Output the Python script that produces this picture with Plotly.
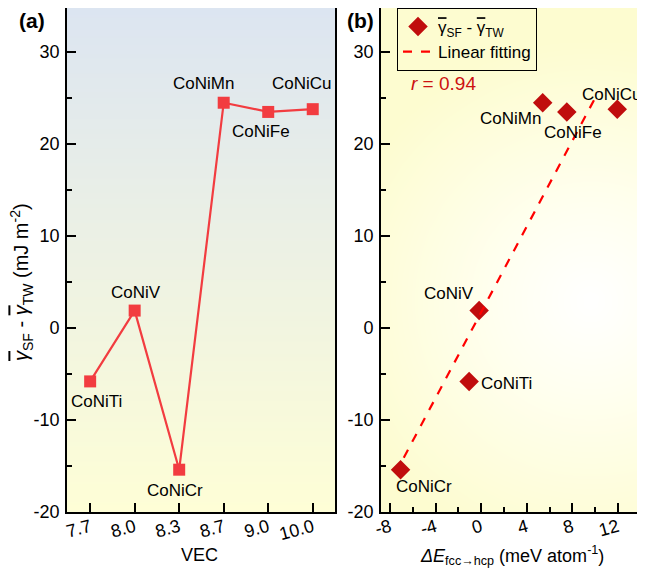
import numpy as np
import plotly.graph_objects as go

# ---------------- data ----------------
alloys = ["CoNiTi", "CoNiV", "CoNiCr", "CoNiMn", "CoNiFe", "CoNiCu"]
vec_labels = ["7.7", "8.0", "8.3", "8.7", "9.0", "10.0"]
gamma_diff = [-5.8, 1.9, -15.4, 24.5, 23.5, 23.8]          # mJ m^-2
delta_e = [-1.06, -0.18, -7.08, 5.4, 7.52, 11.95]          # meV atom^-1
fit_x = [-6.8, 10.3]
fit_y = [-14.1, 25.7]
r_value = "0.94"
y_ticks = [-20, -10, 0, 10, 20, 30]
y_tick_labels = ["-20", "-10", "0", "10", "20", "30"]
xb_ticks = [-8, -4, 0, 4, 8, 12]
xb_tick_labels = ["-8", "-4", "0", "4", "8", "12"]

# label pixel offsets (style)
shift_a = {"CoNiTi": (6, -20), "CoNiV": (1, 18), "CoNiCr": (-4, -21),
           "CoNiMn": (-20, 19), "CoNiFe": (-7, -20), "CoNiCu": (-11, 26)}
shift_b = {"CoNiTi": (37, -2), "CoNiV": (-30, 17), "CoNiCr": (23, -17),
           "CoNiMn": (-32, -16), "CoNiFe": (6, -21), "CoNiCu": (-5, 15)}

FONT = "Arial, Liberation Sans, sans-serif"
OFF = 8                      # page body margin
W, H = 645 - OFF, 583 - OFF


def px(sx):
    return min(1.0, max(0.0, (sx - OFF) / W))


def py(sy):
    return min(1.0, max(0.0, 1 - (sy - OFF) / H))


xa_dom = [px(67), px(335)]
xb_dom = [px(381), px(644)]
y_dom = [py(512), py(8)]
YR = [-20, 34.8]
XAR = [-0.52, 5.5]
XBR = [-8.8, 14.3]

fig = go.Figure()

# background gradient panel (a): vertical blue -> yellow
fig.add_trace(go.Heatmap(
    x=[-1, 6], y=[-20, 34.9], z=[[0, 0], [1, 1]],
    colorscale=[[0, "#fefed6"], [1, "#dce5f1"]], zsmooth="best",
    showscale=False, hoverinfo="skip", xaxis="x", yaxis="y"))

# background gradient panel (b): radial white -> yellow
gx = np.linspace(XBR[0], XBR[1], 50)
gy = np.linspace(YR[0], YR[1], 50)
cx, cy = 9.6, 3.0
GX, GY = np.meshgrid(gx, gy)
dist = np.sqrt(((GX - cx) * 11.35) ** 2 + ((GY - cy) * 9.2) ** 2) / 260.0
dist = np.clip(dist, 0, 1)
fig.add_trace(go.Heatmap(
    x=gx, y=gy, z=dist,
    colorscale=[[0, "#ffffff"], [0.35, "#fffff0"], [1, "#fdfcd0"]], zsmooth="best",
    zmin=0, zmax=1, showscale=False, hoverinfo="skip", xaxis="x2", yaxis="y2"))

# panel (a) line + squares
fig.add_trace(go.Scatter(
    x=list(range(len(alloys))), y=gamma_diff, mode="lines+markers",
    line=dict(color="#f23c40", width=2.2),
    marker=dict(symbol="square", size=12, color="#f23c40"),
    showlegend=False, xaxis="x", yaxis="y"))

OVG = '<span style="text-decoration:overline">γ</span>'

# panel (b) fit + diamonds
fig.add_trace(go.Scatter(
    x=delta_e, y=gamma_diff, mode="markers",
    marker=dict(symbol="diamond", size=15, color="#c00d0d"),
    name=OVG + "<sub>SF</sub> - " + OVG + "<sub>TW</sub>",
    xaxis="x2", yaxis="y2"))
fig.add_trace(go.Scatter(
    x=fit_x, y=fit_y, mode="lines",
    line=dict(color="#ff0000", width=2.2, dash="dash"),
    name="Linear fitting", xaxis="x2", yaxis="y2"))

annotations = []
for name, xv, yv in zip(alloys, range(len(alloys)), gamma_diff):
    dx, dy = shift_a[name]
    annotations.append(dict(x=xv, y=yv, xref="x", yref="y", text=name,
                            showarrow=False, xshift=dx, yshift=dy,
                            xanchor="center", yanchor="middle",
                            font=dict(size=17, color="black", family=FONT)))
for name, xv, yv in zip(alloys, delta_e, gamma_diff):
    dx, dy = shift_b[name]
    annotations.append(dict(x=xv, y=yv, xref="x2", yref="y2", text=name,
                            showarrow=False, xshift=dx, yshift=dy,
                            xanchor="center", yanchor="middle",
                            font=dict(size=17, color="black", family=FONT)))


def paper_text(sx, sy, text, size, color="black", angle=0):
    return dict(x=px(sx), y=py(sy), xref="paper", yref="paper", text=text,
                showarrow=False, xanchor="center", yanchor="middle", textangle=angle,
                font=dict(size=size, color=color, family=FONT))


OVGI = '<span style="text-decoration:overline"><i>γ</i></span>'
annotations += [
    paper_text(32, 20, "<b>(a)</b>", 21),
    paper_text(360, 20, "<b>(b)</b>", 21),
    paper_text(443, 83, "<i>r</i> = " + r_value, 19, "#cc1111"),
    paper_text(21, 282, OVGI + "<sub>SF</sub> - " + OVGI + "<sub>TW</sub> (mJ m<sup>-2</sup>)", 20, angle=-90),
    paper_text(200, 555, "VEC", 18),
    paper_text(512, 555, "<i>ΔE</i><sub>fcc→hcp</sub> (meV atom<sup>-1</sup>)", 18),
]

axis_common = dict(showline=True, linecolor="black", linewidth=1.8, mirror=True,
                   ticks="inside", ticklen=9, tickwidth=1.5, tickcolor="black",
                   showgrid=False, zeroline=False, automargin=False,
                   tickfont=dict(size=18, color="black", family=FONT))
minor_y = dict(dtick=5, ticks="inside", ticklen=5, tickwidth=1.5, tickcolor="black", showgrid=False)

fig.update_layout(
    width=W, height=H, margin=dict(l=0, r=0, t=0, b=0, autoexpand=False),
    paper_bgcolor="white", plot_bgcolor="white",
    font=dict(family=FONT, color="black"),
    xaxis=dict(domain=xa_dom, range=XAR, tickvals=list(range(len(vec_labels))),
               ticktext=vec_labels, tickangle=-15, anchor="y", ticklabelstandoff=-4,
               **axis_common),
    yaxis=dict(domain=y_dom, range=YR, tickvals=y_ticks, ticktext=y_tick_labels, anchor="x",
               minor=minor_y, ticklabelstandoff=2, **axis_common),
    xaxis2=dict(domain=xb_dom, range=XBR, tickvals=xb_ticks, ticktext=xb_tick_labels,
                tickangle=-15, anchor="y2", ticklabelstandoff=-4,
                minor=dict(dtick=2, ticks="inside", ticklen=5, tickwidth=1.5,
                           tickcolor="black", showgrid=False),
                **axis_common),
    yaxis2=dict(domain=y_dom, range=YR, tickvals=y_ticks, ticktext=y_tick_labels, anchor="x2",
                minor=minor_y, ticklabelstandoff=2, **axis_common),
    legend=dict(x=px(397), y=py(8), xanchor="left", yanchor="top",
                bgcolor="rgba(0,0,0,0)", bordercolor="black", borderwidth=1,
                font=dict(size=17, color="black", family=FONT),
                tracegroupgap=0, itemwidth=30),
    annotations=annotations,
)

fig.write_html("out.html")
